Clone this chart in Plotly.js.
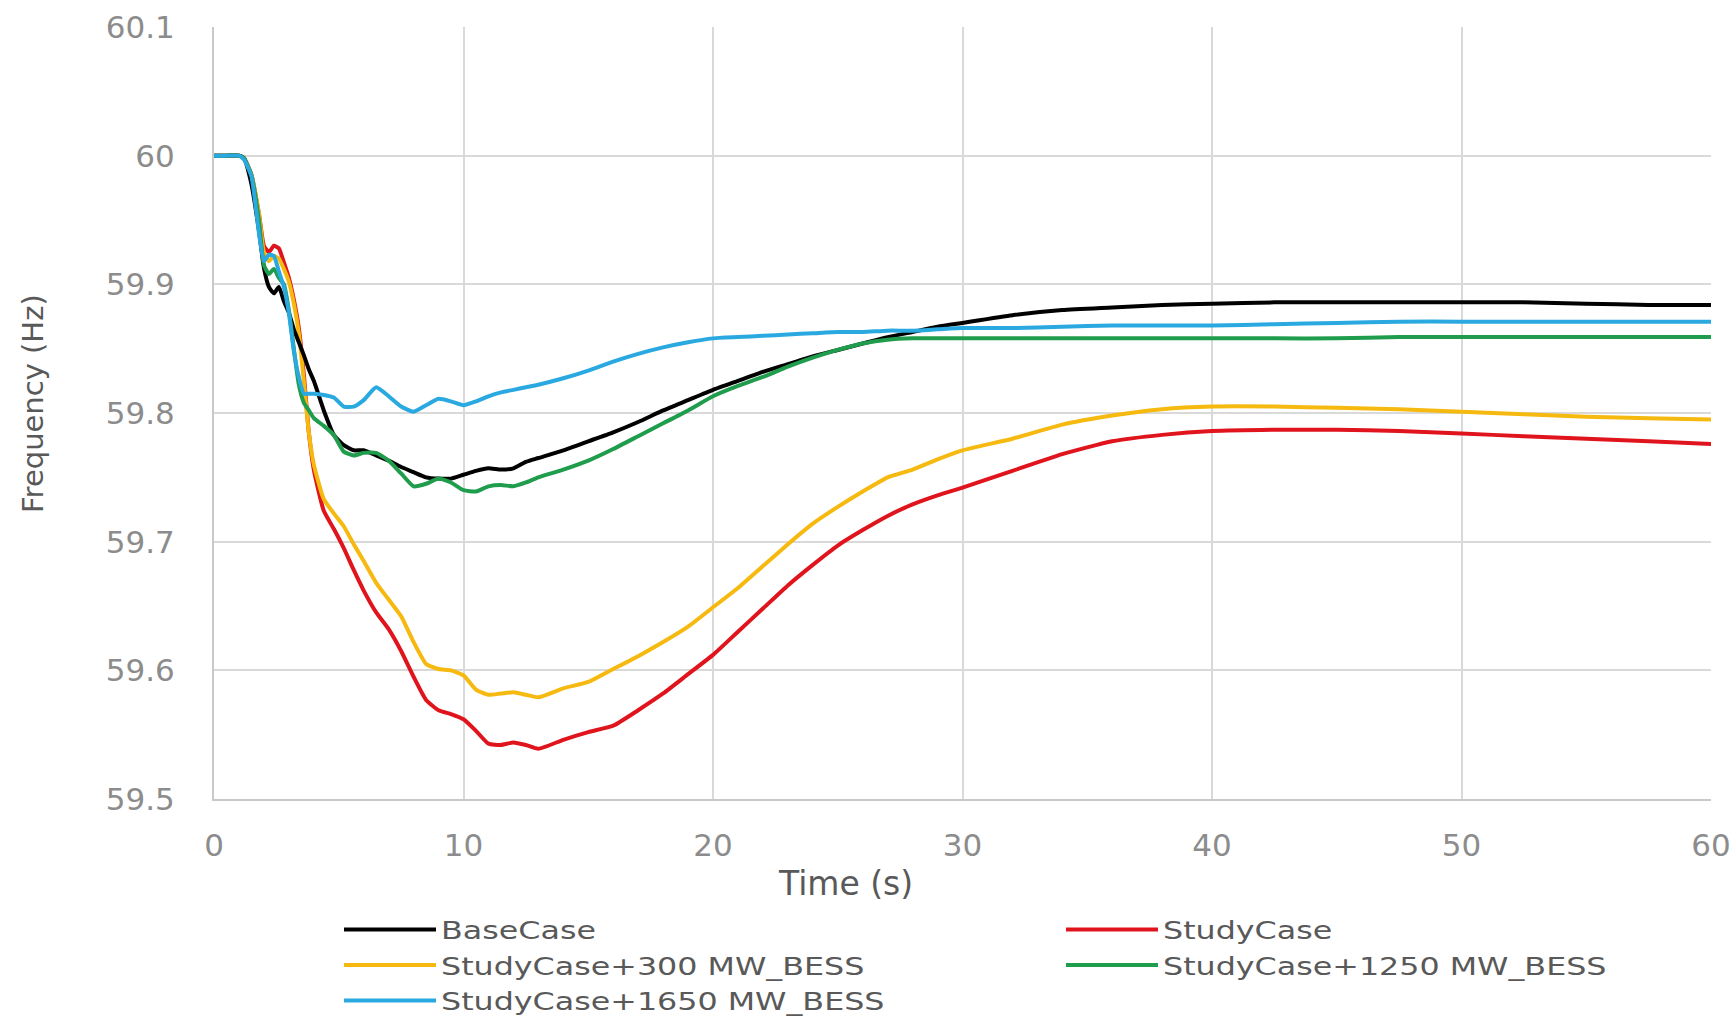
<!DOCTYPE html>
<html>
<head>
<meta charset="utf-8">
<script src="https://cdn.plot.ly/plotly-3.0.1.min.js"></script>
<style>
  html, body { margin: 0; padding: 0; background: #ffffff; }
  #chart { width: 1736px; height: 1019px; }
  #chart .legendtext {
    transform-box: fill-box;
    transform-origin: 0% 50%;
    transform: scaleX(1.27);
  }
</style>
</head>
<body>
<div id="chart"></div>
<script>
// Time axis (s)
const timeS = [0, 0.5, 1.0, 1.2, 1.5, 1.8, 2.0, 2.2, 2.4, 2.6, 2.8, 3.0, 3.2, 3.4, 3.6, 3.8, 4.0, 4.4, 4.8, 5.2, 5.6, 6.0, 6.5, 7.0, 7.5, 8.0, 8.5, 9.0, 9.5, 10.0, 10.5, 11.0, 11.5, 12.0, 12.5, 13.0, 14.0, 15.0, 16.0, 17.0, 18.0, 19.0, 20.0, 21.0, 22.0, 23.0, 24.0, 25.0, 26.0, 27.0, 28.0, 29.0, 30.0, 32.0, 34.0, 36.0, 38.0, 40.0, 42.5, 45.0, 47.5, 50.0, 52.5, 55.0, 57.5, 60.0];

// Frequency series (Hz)
const baseCase = [60.0, 60.0, 60.0, 59.998, 59.978, 59.942, 59.913, 59.898, 59.893, 59.898, 59.887, 59.878, 59.865, 59.855, 59.845, 59.834, 59.825, 59.802, 59.783, 59.775, 59.771, 59.771, 59.767, 59.763, 59.758, 59.754, 59.750, 59.749, 59.749, 59.752, 59.755, 59.757, 59.756, 59.757, 59.762, 59.765, 59.771, 59.778, 59.785, 59.793, 59.802, 59.810, 59.818, 59.825, 59.832, 59.838, 59.844, 59.849, 59.854, 59.859, 59.863, 59.867, 59.870, 59.876, 59.880, 59.882, 59.884, 59.885, 59.886, 59.886, 59.886, 59.886, 59.886, 59.885, 59.884, 59.884];

const studyCase = [60.0, 60.0, 60.0, 59.998, 59.985, 59.955, 59.930, 59.925, 59.930, 59.928, 59.917, 59.905, 59.888, 59.866, 59.830, 59.785, 59.756, 59.724, 59.710, 59.695, 59.678, 59.662, 59.645, 59.632, 59.615, 59.595, 59.577, 59.569, 59.566, 59.562, 59.553, 59.543, 59.542, 59.544, 59.542, 59.539, 59.546, 59.552, 59.557, 59.569, 59.582, 59.597, 59.612, 59.630, 59.648, 59.666, 59.682, 59.697, 59.709, 59.720, 59.729, 59.736, 59.742, 59.755, 59.768, 59.778, 59.783, 59.786, 59.787, 59.787, 59.786, 59.784, 59.782, 59.780, 59.778, 59.776];

const bess300 = [60.0, 60.0, 60.0, 59.998, 59.985, 59.955, 59.925, 59.918, 59.922, 59.920, 59.912, 59.902, 59.885, 59.862, 59.825, 59.785, 59.760, 59.733, 59.722, 59.712, 59.698, 59.685, 59.668, 59.655, 59.642, 59.622, 59.605, 59.601, 59.600, 59.596, 59.585, 59.581, 59.582, 59.583, 59.581, 59.579, 59.586, 59.591, 59.601, 59.611, 59.622, 59.634, 59.649, 59.664, 59.681, 59.698, 59.714, 59.727, 59.739, 59.750, 59.756, 59.764, 59.771, 59.780, 59.791, 59.798, 59.803, 59.805, 59.805, 59.804, 59.803, 59.801, 59.799, 59.797, 59.796, 59.795];

const bess1250 = [60.0, 60.0, 60.0, 59.998, 59.985, 59.950, 59.915, 59.908, 59.912, 59.905, 59.900, 59.880, 59.850, 59.822, 59.808, 59.802, 59.796, 59.790, 59.783, 59.770, 59.767, 59.769, 59.769, 59.763, 59.753, 59.743, 59.745, 59.749, 59.746, 59.740, 59.739, 59.743, 59.744, 59.743, 59.746, 59.750, 59.756, 59.763, 59.772, 59.782, 59.792, 59.802, 59.813, 59.821, 59.828, 59.836, 59.843, 59.849, 59.854, 59.857, 59.858, 59.858, 59.858, 59.858, 59.858, 59.858, 59.858, 59.858, 59.858, 59.858, 59.859, 59.859, 59.859, 59.859, 59.859, 59.859];

const bess1650 = [60.0, 60.0, 60.0, 59.997, 59.984, 59.940, 59.918, 59.923, 59.922, 59.910, 59.898, 59.878, 59.848, 59.828, 59.815, 59.815, 59.815, 59.814, 59.812, 59.805, 59.805, 59.810, 59.820, 59.813, 59.805, 59.801, 59.806, 59.811, 59.809, 59.806, 59.809, 59.813, 59.816, 59.818, 59.820, 59.822, 59.827, 59.833, 59.840, 59.846, 59.851, 59.855, 59.858, 59.859, 59.860, 59.861, 59.862, 59.863, 59.863, 59.864, 59.864, 59.865, 59.866, 59.866, 59.867, 59.868, 59.868, 59.868, 59.869, 59.870, 59.871, 59.871, 59.871, 59.871, 59.871, 59.871];

const seriesNames = ["BaseCase", "StudyCase", "StudyCase+300 MW_BESS", "StudyCase+1250 MW_BESS", "StudyCase+1650 MW_BESS"];
const seriesColors = ["#000000", "#e0141c", "#f6b910", "#1f9c4c", "#2aa9e1"];
const seriesValues = [baseCase, studyCase, bess300, bess1250, bess1650];

const xTicks = [0, 10, 20, 30, 40, 50, 60];
const yTicks = [59.5, 59.6, 59.7, 59.8, 59.9, 60, 60.1];
const yTickText = ["59.5", "59.6", "59.7", "59.8", "59.9", "60", "60.1"];

const xTitle = "Time (s)";
const yTitle = "Frequency (Hz)";

// Draw order: later traces on top (blue drawn last as in reference)
const drawOrder = [1, 2, 0, 3, 4];
const traces = drawOrder.map(i => ({
  type: "scatter",
  mode: "lines",
  name: seriesNames[i],
  x: timeS,
  y: seriesValues[i],
  line: { color: seriesColors[i], width: 4, shape: "spline", smoothing: 0.5 },
  legendrank: i + 1,
  hoverinfo: "x+y+name"
}));

const font = "DejaVu Sans, Verdana, sans-serif";

const layout = {
  width: 1736,
  height: 1019,
  paper_bgcolor: "#ffffff",
  plot_bgcolor: "#ffffff",
  margin: { l: 214, r: 25, t: 27, b: 220, pad: 0, autoexpand: false },
  showlegend: true,
  legend: {
    orientation: "h",
    x: 0.0835,
    xanchor: "left",
    y: -0.1395,
    yanchor: "top",
    entrywidth: 615,
    entrywidthmode: "pixels",
    itemwidth: 92,
    traceorder: "normal",
    font: { family: font, size: 25, color: "#595959" },
    bgcolor: "rgba(0,0,0,0)"
  },
  xaxis: {
    range: [0, 60],
    tickvals: xTicks,
    ticktext: xTicks.map(String),
    showgrid: true,
    gridcolor: "#d9d9d9",
    gridwidth: 2,
    zeroline: false,
    showline: true,
    linecolor: "#c9c9c9",
    linewidth: 2,
    ticks: "",
    ticklabelstandoff: 18,
    tickfont: { family: font, size: 31, color: "#8c8c8c" },
    fixedrange: true
  },
  yaxis: {
    range: [59.5, 60.1],
    tickvals: yTicks,
    ticktext: yTickText,
    showgrid: true,
    gridcolor: "#d9d9d9",
    gridwidth: 2,
    zeroline: false,
    showline: true,
    linecolor: "#c9c9c9",
    linewidth: 2,
    ticks: "",
    ticklabelstandoff: 31,
    tickfont: { family: font, size: 31, color: "#8c8c8c" },
    fixedrange: true
  },
  annotations: [
    {
      text: xTitle,
      xref: "paper", yref: "paper",
      x: 0.422, y: -0.109,
      xanchor: "center", yanchor: "middle",
      showarrow: false,
      font: { family: font, size: 33, color: "#595959" }
    },
    {
      text: yTitle,
      xref: "paper", yref: "paper",
      x: -0.1209, y: 0.5117,
      xanchor: "center", yanchor: "middle",
      textangle: -90,
      showarrow: false,
      font: { family: font, size: 29, color: "#595959" }
    }
  ]
};

Plotly.newPlot("chart", traces, layout, { displayModeBar: false, staticPlot: true });
</script>
</body>
</html>
